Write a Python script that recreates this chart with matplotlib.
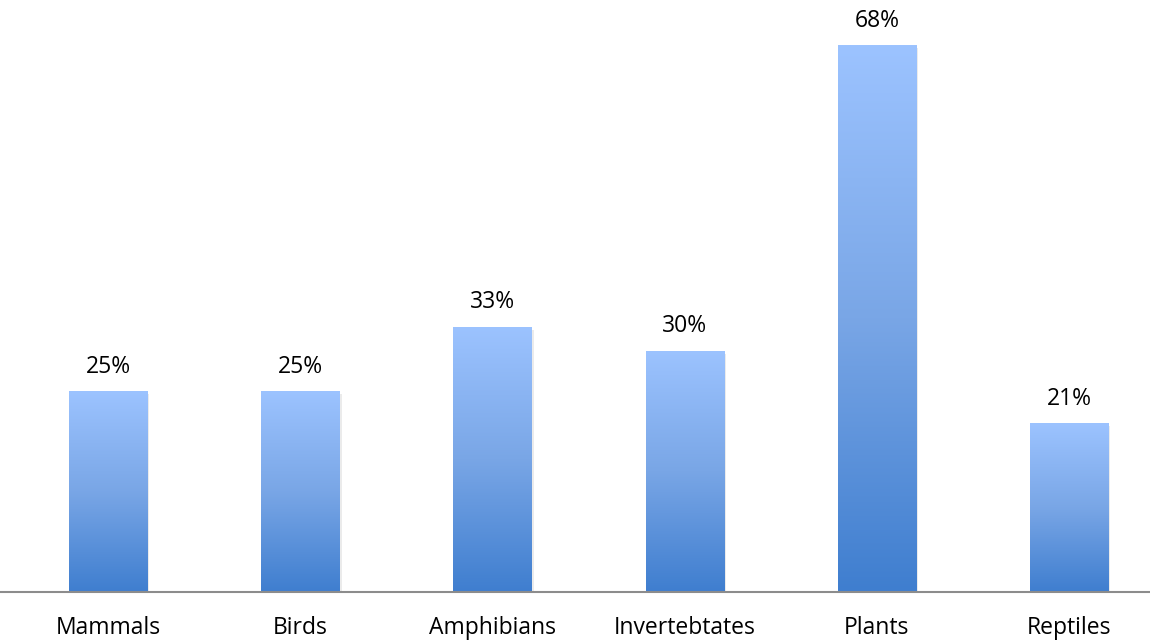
import matplotlib
matplotlib.use("Agg")
import matplotlib.pyplot as plt
import numpy as np
from matplotlib.colors import LinearSegmentedColormap

categories = ["Mammals", "Birds", "Amphibians", "Invertebtates", "Plants", "Reptiles"]
values = [25, 25, 33, 30, 68, 21]

plt.rcParams['font.family'] = ['Open Sans', 'DejaVu Sans']

fig = plt.figure(figsize=(11.5, 6.42), dpi=100)
ax = fig.add_axes([0, 50 / 642, 1, 592 / 642])

# light blue at the top, darker blue at the bottom of each bar
cmap = LinearSegmentedColormap.from_list("bargrad", ["#3f7ecf", "#79a6e6", "#9cc3ff"])
grad = np.linspace(0, 1, 256).reshape(-1, 1)

x = np.arange(len(categories))
width = 0.406
bars = ax.bar(x, values, width=width, color="none", edgecolor="none", zorder=2)

for rect, v in zip(bars, values):
    x0 = rect.get_x()
    # soft shadow
    ax.bar(rect.get_x() + rect.get_width() / 2 + 0.012, v, width=width, bottom=-0.4,
           color="#000000", alpha=0.08, edgecolor="none", zorder=1)
    im = ax.imshow(grad, extent=[x0, x0 + width, 0, v], origin="lower",
                   cmap=cmap, aspect="auto", zorder=2)
    im.set_clip_path(rect)
    ax.annotate(f"{v}%", (rect.get_x() + rect.get_width() / 2, v),
                xytext=(0, 9), textcoords="offset points",
                ha="center", va="bottom", fontsize=16.5, color="black")

ax.set_xlim(-108 / 192.2, (1150 - 108) / 192.2)
ax.set_ylim(0, 592 / 8.04)

for pos in ['right', 'top', 'left']:
    ax.spines[pos].set_visible(False)
ax.spines['bottom'].set_color("#8c8c8c")
ax.spines['bottom'].set_linewidth(1.5)
ax.spines['bottom'].set_zorder(3)

ax.set_xticks(x)
ax.set_xticklabels(categories, fontsize=16.5)
ax.tick_params(axis='x', length=0, pad=17)
ax.set_yticks([])

fig.savefig("out.png", dpi=100)
